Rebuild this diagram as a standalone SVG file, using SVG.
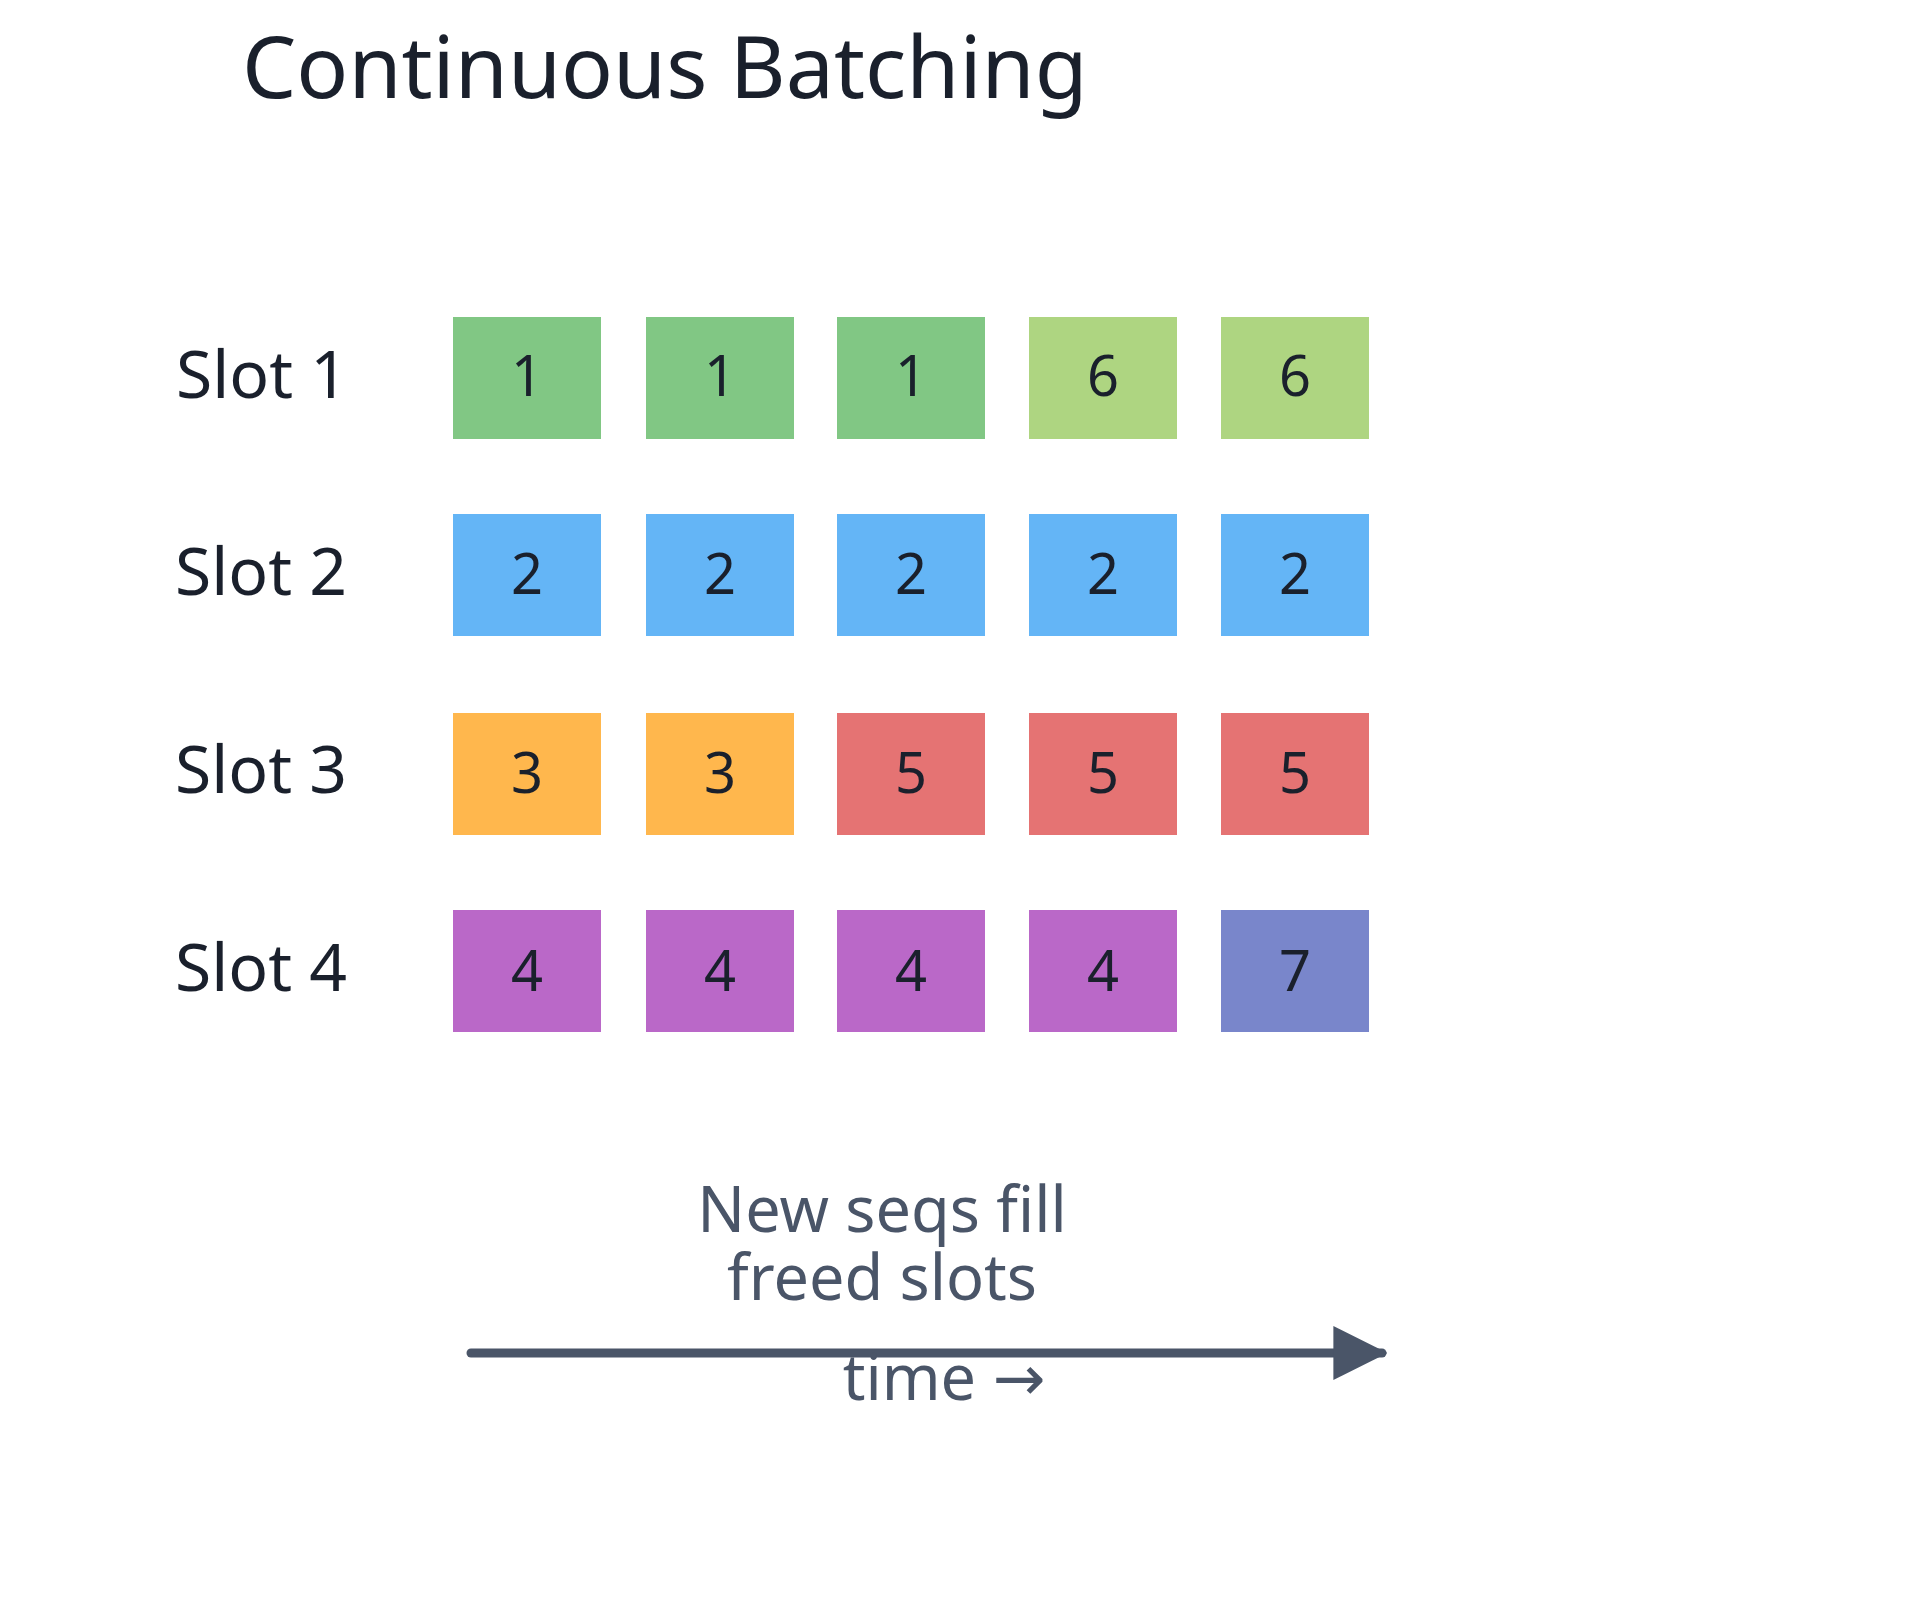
<svg xmlns="http://www.w3.org/2000/svg" width="1920" height="1600" viewBox="0 0 1920 1600">
<style>
text{font-family:"Noto Sans","Open Sans","DejaVu Sans",sans-serif}
.t{font-size:86px;fill:#1a202c}
.s{font-size:66px;fill:#1a202c;text-anchor:end}
.n{font-size:56px;fill:#1a202c;text-anchor:middle}
.c{font-size:63px;fill:#4a5568;text-anchor:middle}
.g{fill:#81c784}.lg{fill:#aed581}.b{fill:#64b5f6}.o{fill:#ffb74d}.r{fill:#e57373}.p{fill:#ba68c8}.i{fill:#7986cb}
</style>
<defs><marker id="ah" viewBox="0 0 10 10" refX="9" refY="5" markerWidth="6" markerHeight="6" markerUnits="strokeWidth" orient="auto"><path d="M0,0 L10,5 L0,10 z" fill="#4a5568"/></marker></defs>
<rect width="1920" height="1600" fill="#fff"/>
<text class="t" x="242" y="98">Continuous Batching</text>
<g id="labels">
<text class="s" x="348" y="398">Slot 1</text>
<text class="s" x="347" y="595">Slot 2</text>
<text class="s" x="347" y="793">Slot 3</text>
<text class="s" x="347" y="991">Slot 4</text>
</g>
<g id="row1">
<g id="c11"><rect class="g" x="453" y="317" width="148" height="122"/><text class="n" x="527" y="396">1</text></g>
<g id="c12"><rect class="g" x="646" y="317" width="148" height="122"/><text class="n" x="720" y="396">1</text></g>
<g id="c13"><rect class="g" x="837" y="317" width="148" height="122"/><text class="n" x="911" y="396">1</text></g>
<g id="c14"><rect class="lg" x="1029" y="317" width="148" height="122"/><text class="n" x="1103" y="396">6</text></g>
<g id="c15"><rect class="lg" x="1221" y="317" width="148" height="122"/><text class="n" x="1295" y="396">6</text></g>
</g>
<g id="row2">
<g id="c21"><rect class="b" x="453" y="514" width="148" height="122"/><text class="n" x="527" y="594">2</text></g>
<g id="c22"><rect class="b" x="646" y="514" width="148" height="122"/><text class="n" x="720" y="594">2</text></g>
<g id="c23"><rect class="b" x="837" y="514" width="148" height="122"/><text class="n" x="911" y="594">2</text></g>
<g id="c24"><rect class="b" x="1029" y="514" width="148" height="122"/><text class="n" x="1103" y="594">2</text></g>
<g id="c25"><rect class="b" x="1221" y="514" width="148" height="122"/><text class="n" x="1295" y="594">2</text></g>
</g>
<g id="row3">
<g id="c31"><rect class="o" x="453" y="713" width="148" height="122"/><text class="n" x="527" y="793">3</text></g>
<g id="c32"><rect class="o" x="646" y="713" width="148" height="122"/><text class="n" x="720" y="793">3</text></g>
<g id="c33"><rect class="r" x="837" y="713" width="148" height="122"/><text class="n" x="911" y="793">5</text></g>
<g id="c34"><rect class="r" x="1029" y="713" width="148" height="122"/><text class="n" x="1103" y="793">5</text></g>
<g id="c35"><rect class="r" x="1221" y="713" width="148" height="122"/><text class="n" x="1295" y="793">5</text></g>
</g>
<g id="row4">
<g id="c41"><rect class="p" x="453" y="910" width="148" height="122"/><text class="n" x="527" y="991">4</text></g>
<g id="c42"><rect class="p" x="646" y="910" width="148" height="122"/><text class="n" x="720" y="991">4</text></g>
<g id="c43"><rect class="p" x="837" y="910" width="148" height="122"/><text class="n" x="911" y="991">4</text></g>
<g id="c44"><rect class="p" x="1029" y="910" width="148" height="122"/><text class="n" x="1103" y="991">4</text></g>
<g id="c45"><rect class="i" x="1221" y="910" width="148" height="122"/><text class="n" x="1295" y="991">7</text></g>
</g>
<g id="caption">
<text class="c" x="882" y="1232">New seqs fill</text>
<text class="c" x="882" y="1300">freed slots</text>
</g>
<g id="connectors">
<line x1="471" y1="1353" x2="1382" y2="1353" stroke="#4a5568" stroke-width="9" stroke-linecap="round" marker-end="url(#ah)"/>
</g>
<text class="c" x="944" y="1400">time →</text>
</svg>
